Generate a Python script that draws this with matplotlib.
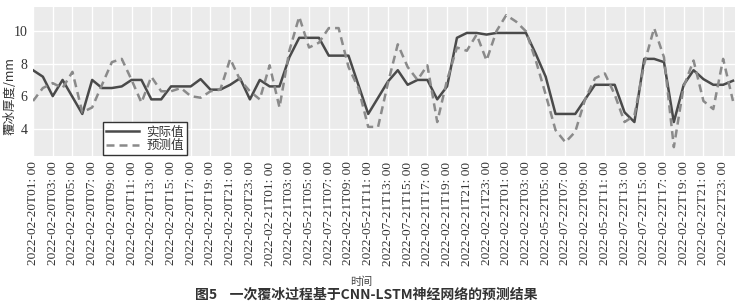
import matplotlib.pyplot as plt

# hourly series, 2022-02-20T01 .. 2022-02-23T00
actual = [7.6, 7.2, 6.0, 7.0, 5.95, 4.9, 7.0, 6.5, 6.5, 6.6,
          7.0, 7.0, 5.8, 5.8, 6.6, 6.6, 6.6, 7.05, 6.4, 6.4,
          6.7, 7.1, 5.8, 7.0, 6.6, 6.6, 8.4, 9.6, 9.6, 9.6,
          8.5, 8.5, 8.5, 6.7, 4.9, 5.9, 6.9, 7.6, 6.7, 7.0,
          7.0, 5.8, 6.6, 9.6, 9.9, 9.9, 9.8, 9.9, 9.9, 9.9,
          9.9, 8.6, 7.2, 4.9, 4.9, 4.9, 5.8, 6.7, 6.7, 6.7,
          5.0, 4.4, 8.3, 8.3, 8.1, 4.4, 6.7, 7.6, 7.05, 6.7,
          6.7, 6.95]
predicted = [5.7, 6.5, 6.8, 6.5, 7.5, 5.0, 5.3, 6.7, 8.1, 8.3,
             7.0, 5.6, 7.2, 6.3, 6.3, 6.5, 6.0, 5.9, 6.3, 6.4,
             8.3, 7.0, 6.3, 5.8, 7.9, 5.3, 8.8, 10.9, 9.0, 9.3,
             10.2, 10.2, 7.8, 6.5, 4.1, 4.1, 6.8, 9.2, 7.8, 7.0,
             7.9, 4.4, 7.0, 9.0, 8.8, 9.8, 8.2, 10.0, 11.0, 10.6,
             10.0, 8.2, 6.1, 3.9, 3.15, 3.8, 5.8, 7.1, 7.4, 6.1,
             4.4, 4.8, 8.0, 10.2, 8.4, 2.85, 6.6, 8.2, 5.7, 5.2,
             8.3, 5.7]
tick_labels = [
    '2022-02-20T01: 00', '2022-02-20T03: 00', '2022-02-20T05: 00', '2022-02-20T07: 00',
    '2022-02-20T09: 00', '2022-02-20T11: 00', '2022-02-20T13: 00', '2022-02-20T15: 00',
    '2022-02-20T17: 00', '2022-02-20T19: 00', '2022-02-20T21: 00', '2022-02-20T23: 00',
    '2022-02-21T01: 00', '2022-02-21T03: 00', '2022-05-21T05: 00', '2022-07-21T07: 00',
    '2022-02-21T09: 00', '2022-05-21T11: 00', '2022-07-21T13: 00', '2022-07-21T15: 00',
    '2022-02-21T17: 00', '2022-02-21T19: 00', '2022-02-21T21: 00', '2022-02-21T23: 00',
    '2022-02-22T01: 00', '2022-02-22T03: 00', '2022-05-22T05: 00', '2022-07-22T07: 00',
    '2022-02-22T09: 00', '2022-05-22T11: 00', '2022-07-22T13: 00', '2022-07-22T15: 00',
    '2022-02-22T17: 00', '2022-02-22T19: 00', '2022-02-22T21: 00', '2022-02-22T23: 00',
]
y_ticks = [4, 6, 8, 10]

plt.rcParams['font.family'] = 'serif'
plt.rcParams['font.serif'] = ['Liberation Serif', 'DejaVu Serif']
cjk = ['Noto Sans CJK SC', 'DejaVu Sans']

fig = plt.figure(figsize=(7.4, 3.06), dpi=100)
ax = fig.add_axes([0.0446, 0.49, 0.9486, 0.487])
ax.set_facecolor('#ebebeb')
for s in ax.spines.values():
    s.set_visible(False)

x = list(range(len(actual)))
ax.plot(x, actual, color='#4a4a4a', lw=1.8, label='实际值', zorder=3)
ax.plot(x, predicted, color='#8a8a8a', lw=1.8, ls=(0, (3.2, 2.0)), label='预测值', zorder=3)

ax.set_xlim(0, len(actual) - 1 + 0.2)
ax.set_ylim(2.3, 11.5)
ax.set_xticks(range(0, 2 * len(tick_labels), 2))
ax.set_xticklabels(tick_labels, rotation=90, fontsize=9.6, color='#333333')
ax.set_yticks(y_ticks)
ax.set_yticklabels([str(v) for v in y_ticks], fontsize=10, color='#333333')
ax.tick_params(length=0, pad=4)
ax.grid(True, color='white', lw=1.0)
ax.set_axisbelow(True)

fig.text(10 / 740, 1 - 96 / 306, '覆冰厚度/mm', family=cjk, fontsize=9, color='#333333',
         rotation=90, ha='center', va='center')

leg = ax.legend(loc='lower left', bbox_to_anchor=(0.1, 0.005), borderaxespad=0,
                fancybox=False, framealpha=1, edgecolor='#333333', handlelength=2.6,
                prop={'family': cjk, 'size': 9}, borderpad=0.25, labelspacing=0.05,
                handletextpad=0.6)
leg.get_frame().set_linewidth(1.0)
for t in leg.get_texts():
    t.set_color('#333333')

fig.text(361 / 740, 1 - 282 / 306, '时间', family=cjk, fontsize=8, color='#444444',
         ha='center', va='center')
fig.text(366 / 740, 1 - 295 / 306, '图5    一次覆冰过程基于CNN-LSTM神经网络的预测结果',
         family=cjk, fontsize=10, fontweight='bold', color='#333333',
         ha='center', va='center')

fig.savefig('out.png', dpi=100)
